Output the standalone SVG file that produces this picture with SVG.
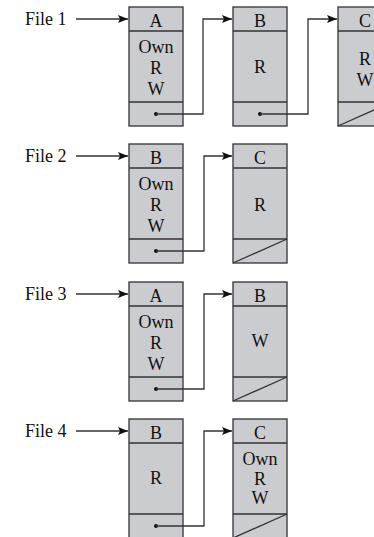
<svg xmlns="http://www.w3.org/2000/svg" width="374" height="537" viewBox="0 0 374 537">
<style>
.box{fill:#cacccf;stroke:#333;stroke-width:1.3}
.ln{fill:none;stroke:#333;stroke-width:1.3}
.t{font-family:"Liberation Serif","Times New Roman",serif;font-size:18px;fill:#111;text-anchor:middle}
.lbl{font-family:"Liberation Serif","Times New Roman",serif;font-size:18px;fill:#111}
.dot{fill:#111}
</style>
<defs>
<marker id="ah" viewBox="0 0 10 8" refX="10" refY="4" markerWidth="10" markerHeight="8" markerUnits="userSpaceOnUse" orient="auto">
<path d="M0,0 L10,4 L0,8 L2,4 Z" fill="#111"/>
</marker>
<g id="frame">
<rect class="box" x="0" y="0" width="54" height="119"/>
<line class="ln" x1="0" y1="24" x2="54" y2="24"/>
<line class="ln" x1="0" y1="95" x2="54" y2="95"/>
</g>
</defs>

<g id="labels">
<text class="lbl" x="25" y="25">File 1</text>
<text class="lbl" x="25" y="162">File 2</text>
<text class="lbl" x="25" y="300">File 3</text>
<text class="lbl" x="25" y="437">File 4</text>
</g>

<g id="f1A" transform="translate(129,7)">
<use href="#frame"/>
<text class="t" x="27" y="19.5">A</text>
<text class="t" x="27" y="45.5">Own</text>
<text class="t" x="27" y="67">R</text>
<text class="t" x="27" y="88">W</text>
<circle class="dot" cx="27" cy="107" r="2"/>
</g>
<g id="f1B" transform="translate(233,7)">
<use href="#frame"/>
<text class="t" x="27" y="19.5">B</text>
<text class="t" x="27" y="66">R</text>
<circle class="dot" cx="27" cy="107" r="2"/>
</g>
<g id="f1C" transform="translate(338,7)">
<use href="#frame"/>
<text class="t" x="27" y="19.5">C</text>
<text class="t" x="27" y="58">R</text>
<text class="t" x="27" y="79">W</text>
<line class="ln" x1="0" y1="119" x2="54" y2="95"/>
</g>

<g id="f2B" transform="translate(129,144)">
<use href="#frame"/>
<text class="t" x="27" y="19.5">B</text>
<text class="t" x="27" y="45.5">Own</text>
<text class="t" x="27" y="67">R</text>
<text class="t" x="27" y="88">W</text>
<circle class="dot" cx="27" cy="107" r="2"/>
</g>
<g id="f2C" transform="translate(233,144)">
<use href="#frame"/>
<text class="t" x="27" y="19.5">C</text>
<text class="t" x="27" y="67">R</text>
<line class="ln" x1="0" y1="119" x2="54" y2="95"/>
</g>

<g id="f3A" transform="translate(129,282)">
<use href="#frame"/>
<text class="t" x="27" y="19.5">A</text>
<text class="t" x="27" y="45.5">Own</text>
<text class="t" x="27" y="67">R</text>
<text class="t" x="27" y="88">W</text>
<circle class="dot" cx="27" cy="107" r="2"/>
</g>
<g id="f3B" transform="translate(233,282)">
<use href="#frame"/>
<text class="t" x="27" y="19.5">B</text>
<text class="t" x="27" y="65">W</text>
<line class="ln" x1="0" y1="119" x2="54" y2="95"/>
</g>

<g id="f4B" transform="translate(129,419)">
<use href="#frame"/>
<text class="t" x="27" y="19.5">B</text>
<text class="t" x="27" y="65">R</text>
<circle class="dot" cx="27" cy="107" r="2"/>
</g>
<g id="f4C" transform="translate(233,419)">
<use href="#frame"/>
<text class="t" x="27" y="19.5">C</text>
<text class="t" x="27" y="45.5">Own</text>
<text class="t" x="27" y="66">R</text>
<text class="t" x="27" y="85">W</text>
<line class="ln" x1="0" y1="119" x2="54" y2="95"/>
</g>

<g id="connectors" class="ln">
<line class="ln" x1="76" y1="19" x2="128" y2="19" marker-end="url(#ah)"/>
<line class="ln" x1="76" y1="156" x2="128" y2="156" marker-end="url(#ah)"/>
<line class="ln" x1="76" y1="294" x2="128" y2="294" marker-end="url(#ah)"/>
<line class="ln" x1="76" y1="431" x2="128" y2="431" marker-end="url(#ah)"/>
<polyline class="ln" points="156,114 203,114 203,19 232,19" marker-end="url(#ah)"/>
<polyline class="ln" points="260,114 308,114 308,19 337,19" marker-end="url(#ah)"/>
<polyline class="ln" points="156,251 204,251 204,156 232,156" marker-end="url(#ah)"/>
<polyline class="ln" points="156,389 204,389 204,294 232,294" marker-end="url(#ah)"/>
<polyline class="ln" points="156,526 204,526 204,431 232,431" marker-end="url(#ah)"/>
</g>
</svg>
